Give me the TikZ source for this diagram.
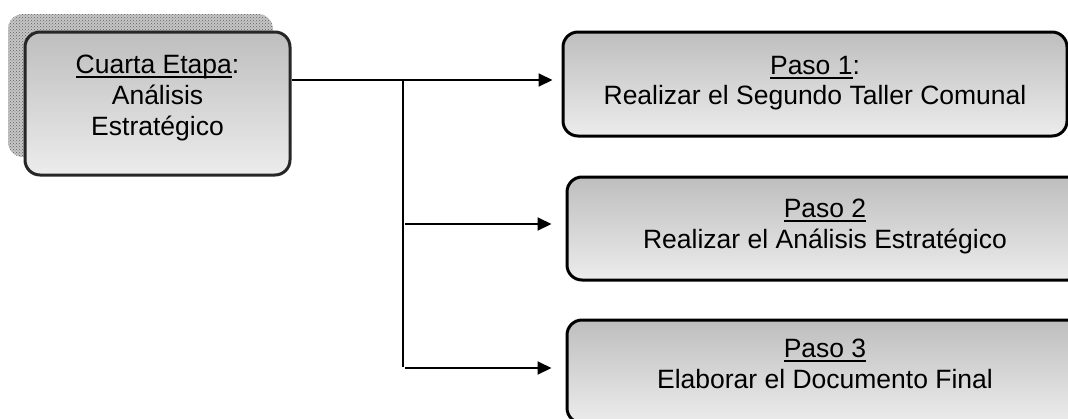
\documentclass[tikz,border=0pt]{standalone}
\usepackage{fontspec}
\setmainfont{Liberation Sans}
\usetikzlibrary{arrows.meta,patterns,calc}
\newcommand{\myul}[1]{\setbox0\hbox{#1}\rlap{\rule[-5pt]{\wd0}{1.8pt}}\box0}
\definecolor{boxtop}{RGB}{190,190,190}
\definecolor{boxbot}{RGB}{236,236,236}
\tikzset{
  stagebox/.style={draw=black,line width=3pt,rounded corners=15pt,
    top color=boxtop,bottom color=boxbot,inner sep=0pt},
  lbl/.style={anchor=base,inner sep=0pt,font=\fontsize{26.5}{31}\selectfont},
  conn/.style={line width=2pt},
  arr/.style={line width=2pt,-{Triangle[length=14pt,width=13pt]}},
}
\begin{document}
\begin{tikzpicture}[x=1pt,y=-1pt]
\useasboundingbox (0,0) rectangle (1068,418);
% shadow
\fill[gray!45,rounded corners=15pt] (8,14) rectangle (273,157);
\fill[pattern=crosshatch dots,pattern color=gray!75!black,rounded corners=15pt] (8,14) rectangle (273,157);
% boxes
\node[stagebox,draw=black!85,minimum width=265pt,minimum height=143pt] (main) at (157.5,103.5) {};
\node[stagebox,minimum width=504pt,minimum height=104pt] (p1) at (815,84) {};
\node[stagebox,minimum width=516pt,minimum height=103pt] (p2) at (825,228.5) {};
\node[stagebox,minimum width=516pt,minimum height=103pt] (p3) at (825,371.5) {};
% texts
\node[lbl] (m1) at (157.5,73) {\myul{Cuarta Etapa}:};
\node[lbl] (m2) at (157.5,104) {Análisis};
\node[lbl] (m3) at (157.5,135) {Estratégico};
\node[lbl] (a1) at (815,74) {\myul{Paso 1}:};
\node[lbl] (a2) at (815,104) {Realizar el Segundo Taller Comunal};
\node[lbl] (b1) at (825,217) {\myul{Paso 2}};
\node[lbl] (b2) at (825,248) {Realizar el Análisis Estratégico};
\node[lbl] (c1) at (825,357) {\myul{Paso 3}};
\node[lbl] (c2) at (825,388) {Elaborar el Documento Final};
% connectors
\coordinate (j1) at (403,80);
\coordinate (j2) at (405,224);
\coordinate (j3) at (405,368);
\coordinate (jv) at (403,367);
\draw[arr,shorten >=9pt] (main.east |- j1) -- (p1.west |- j1);
\draw[conn] (j1) -- (jv);
\draw[arr,shorten >=14pt] (j2) -- (p2.west |- j2);
\draw[arr,shorten >=14pt] (j3) -- (p3.west |- j3);
\end{tikzpicture}
\end{document}
